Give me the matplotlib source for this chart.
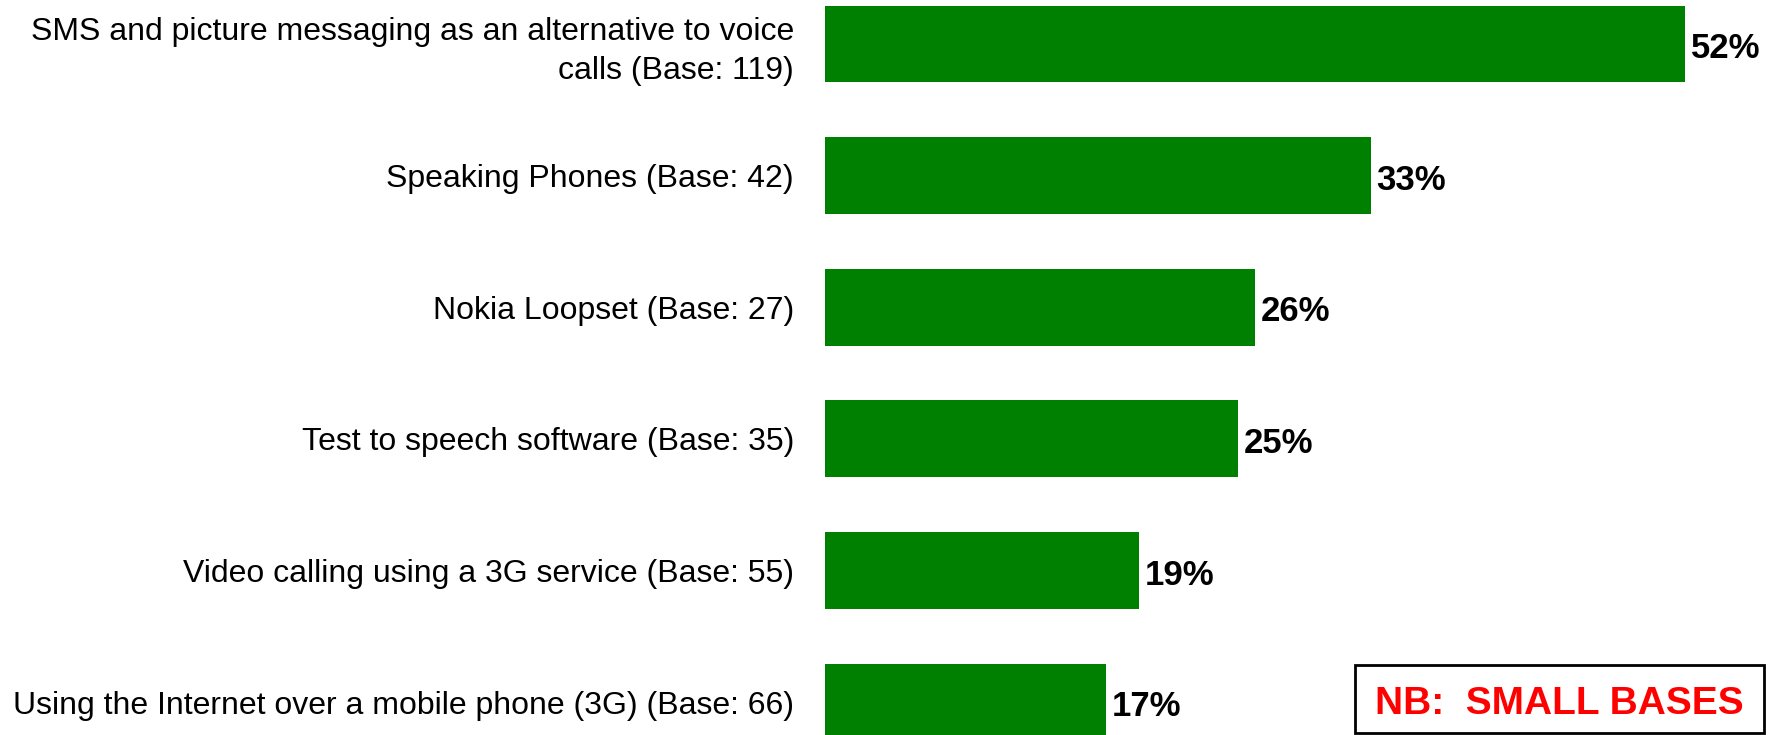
import matplotlib
matplotlib.use("Agg")
import matplotlib.pyplot as plt

categorias = [
    "SMS and picture messaging as an alternative to voice\ncalls (Base: 119)",
    "Speaking Phones (Base: 42)",
    "Nokia Loopset (Base: 27)",
    "Test to speech software (Base: 35)",
    "Video calling using a 3G service (Base: 55)",
    "Using the Internet over a mobile phone (3G) (Base: 66)",
]
valores = [52, 33, 26, 25, 19, 17]
rotulos = ["52%", "33%", "26%", "25%", "19%", "17%"]

plt.rcParams['font.family'] = ['Liberation Sans', 'DejaVu Sans']

fig = plt.figure(figsize=(17.71, 7.35), dpi=100)
ax = fig.add_axes([824.5 / 1771, 0, (1771 - 824.5) / 1771, 1])

pos = list(range(len(valores)))
ax.barh(pos, valores, height=0.583, color='#008000')

# rótulos de valor um pouco abaixo do centro da barra
for p, v, r in zip(pos, valores, rotulos):
    ax.text(v + 0.35, p + 0.035, r, va='center', ha='left', fontsize=25, fontweight='bold', color='black')

ax.set_xlim(0, 57.2)
ax.set_ylim(5.25, -0.334)
ax.set_yticks(pos)
ax.set_yticklabels(categorias, fontsize=23, ha='right', multialignment='right', linespacing=1.35)
ax.tick_params(axis='y', length=0, pad=22)
ax.set_xticks([])
for s in ax.spines.values():
    s.set_visible(False)

fig.text(1559.5 / 1771, 1 - 704 / 735, "NB:  SMALL BASES", ha='center', va='center',
         fontsize=28, fontweight='bold', color='red')
fig.patches.append(plt.Rectangle((1355 / 1771, 1 - 733 / 735), 409 / 1771, 68 / 735,
                                 transform=fig.transFigure, fill=False, edgecolor='black',
                                 linewidth=2))

fig.savefig("out.png", dpi=100)
